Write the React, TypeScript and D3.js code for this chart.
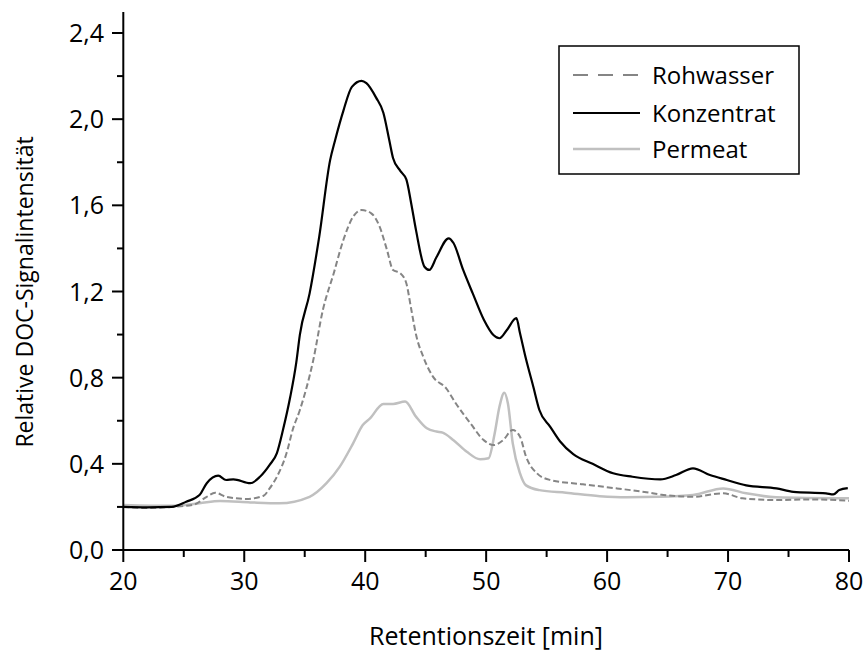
import React from "react";
import * as d3 from "d3";

const xTicks = [20, 30, 40, 50, 60, 70, 80];
const yTicks = [0, 0.4, 0.8, 1.2, 1.6, 2.0, 2.4];
const seriesNames = ["Rohwasser", "Konzentrat", "Permeat"];

const konzentrat: [number, number][] = [
  [20, 0.2], [22, 0.198], [24, 0.2], [25.2, 0.224], [26.3, 0.255], [26.9, 0.31], [27.85, 0.345],
  [28.5, 0.325], [29.1, 0.328], [30.5, 0.31], [31.3, 0.34], [32.1, 0.395], [32.7, 0.45],
  [33.2, 0.557], [33.8, 0.71], [34.3, 0.87], [34.6, 1.0], [35.4, 1.19], [36.2, 1.455],
  [37.1, 1.81], [37.5, 1.9], [38.2, 2.04], [38.9, 2.15], [39.7, 2.178], [40.1, 2.167],
  [40.9, 2.1], [41.5, 2.03], [42.0, 1.9], [42.3, 1.82], [42.9, 1.76], [43.4, 1.72],
  [43.8, 1.61], [44.2, 1.485], [44.9, 1.315], [45.3, 1.3], [45.9, 1.36], [46.9, 1.447],
  [47.3, 1.425], [48.1, 1.3], [48.9, 1.19], [49.8, 1.07], [50.6, 0.998], [51.1, 0.983],
  [51.7, 1.02], [52.5, 1.076], [52.8, 1.006], [53.3, 0.885], [53.9, 0.758], [54.4, 0.65],
  [55.3, 0.572], [56.1, 0.505], [57.2, 0.445], [58.8, 0.4], [60.5, 0.356], [62.1, 0.34],
  [64.4, 0.328], [65.7, 0.348], [67.1, 0.379], [68.5, 0.348], [69.9, 0.325], [71.5, 0.3],
  [74.0, 0.286], [75.4, 0.27], [78.1, 0.263], [78.7, 0.258], [79.2, 0.278], [79.9, 0.287],
];

const rohwasser: [number, number][] = [
  [20, 0.2], [22, 0.195], [24, 0.2], [25.8, 0.21], [26.9, 0.247], [27.6, 0.266], [28.5, 0.247],
  [30.2, 0.237], [31.6, 0.252], [32.1, 0.286], [32.7, 0.34], [33.5, 0.45], [34.0, 0.557],
  [34.6, 0.65], [35.7, 0.88], [36.5, 1.114], [37.4, 1.285], [38.2, 1.44], [39.0, 1.547],
  [39.7, 1.578], [40.5, 1.563], [41.2, 1.5], [41.8, 1.393], [42.3, 1.3], [42.9, 1.285],
  [43.4, 1.238], [43.8, 1.12], [44.2, 1.0], [44.8, 0.897], [45.6, 0.805], [46.7, 0.75],
  [47.5, 0.68], [48.7, 0.588], [49.8, 0.51], [50.6, 0.487], [51.4, 0.51], [52.2, 0.557],
  [52.8, 0.526], [53.3, 0.433], [54.2, 0.356], [55.3, 0.325], [58.0, 0.305], [60.8, 0.286],
  [63.5, 0.266], [64.4, 0.258], [67.1, 0.247], [69.6, 0.263], [71.2, 0.24], [74.0, 0.232],
  [76.7, 0.235], [80, 0.229],
];

const permeat: [number, number][] = [
  [20, 0.209], [24, 0.205], [26.3, 0.217], [28, 0.227], [30.5, 0.221], [32.9, 0.217],
  [35.4, 0.247], [36.8, 0.31], [37.9, 0.387], [39.0, 0.495], [39.8, 0.58], [40.4, 0.611],
  [41.5, 0.678], [42.3, 0.678], [43.3, 0.689], [44.2, 0.619], [45.1, 0.565], [45.9, 0.55],
  [46.4, 0.545], [47.3, 0.51], [48.4, 0.456], [49.5, 0.421], [50.2, 0.426], [50.7, 0.54],
  [51.1, 0.665], [51.5, 0.73], [51.8, 0.68], [52.2, 0.495], [52.8, 0.356], [53.3, 0.3],
  [54.4, 0.278], [56.6, 0.266], [59.4, 0.25], [61.6, 0.245], [64.4, 0.247], [67.1, 0.255],
  [69.6, 0.286], [71.5, 0.263], [74.0, 0.245], [80, 0.24],
];

const FONT = "'Open Sans', 'DejaVu Sans', sans-serif";

export default function App() {
  const W = 867, H = 655;
  const x = d3.scaleLinear().domain([20, 80]).range([123.3, 849]);
  const y = d3.scaleLinear().domain([0, 2.4]).range([550, 33]);
  const line = d3.line<[number, number]>().x(d => x(d[0])).y(d => y(d[1])).curve(d3.curveMonotoneX);

  const xMinor = d3.range(25, 80, 10);
  const yMinor = d3.range(0.2, 2.4, 0.4);

  const series = [
    { name: seriesNames[0], data: rohwasser, color: "#858585", width: 2, dash: "6,3", legDash: "15,10" },
    { name: seriesNames[1], data: konzentrat, color: "#000000", width: 2.2, dash: undefined, legDash: undefined },
    { name: seriesNames[2], data: permeat, color: "#c0c0c0", width: 2.5, dash: undefined, legDash: undefined },
  ];
  const legendRows = [75, 113, 149];

  return (
    <svg width={W} height={H} style={{ position: "absolute", left: 0, top: 0, background: "#fff" }}>
      {[series[2], series[0], series[1]].map(s => (
        <path key={s.name} d={line(s.data) || ""} fill="none" stroke={s.color} strokeWidth={s.width}
          strokeDasharray={s.dash} strokeLinejoin="round" />
      ))}
      <line x1={123.3} x2={123.3} y1={12} y2={550} stroke="#000" strokeWidth={2} />
      <line x1={123.3} x2={849} y1={550} y2={550} stroke="#000" strokeWidth={2} />
      {yTicks.map(t => (
        <g key={"yt" + t}>
          <line x1={112} x2={123.3} y1={y(t)} y2={y(t)} stroke="#000" strokeWidth={2} />
          <text x={104} y={y(t) + 9} textAnchor="end" fontFamily={FONT} fontSize={25} fill="#000">
            {d3.format(".1f")(t).replace(".", ",")}
          </text>
        </g>
      ))}
      {yMinor.map(t => (
        <line key={"ym" + t} x1={117} x2={123.3} y1={y(t)} y2={y(t)} stroke="#000" strokeWidth={2} />
      ))}
      {xTicks.map(t => (
        <g key={"xt" + t}>
          <line x1={x(t)} x2={x(t)} y1={550} y2={562} stroke="#000" strokeWidth={2} />
          <text x={x(t)} y={590} textAnchor="middle" fontFamily={FONT} fontSize={25} fill="#000">{t}</text>
        </g>
      ))}
      {xMinor.map(t => (
        <line key={"xm" + t} x1={x(t)} x2={x(t)} y1={550} y2={557} stroke="#000" strokeWidth={2} />
      ))}
      <text x={486} y={645} textAnchor="middle" fontFamily={FONT} fontSize={25} fill="#000">Retentionszeit [min]</text>
      <text transform="translate(33,292) rotate(-90)" textAnchor="middle" fontFamily={FONT} fontSize={23} fill="#000">
        Relative DOC-Signalintensität
      </text>
      <rect x={559} y={46} width={240} height={128} fill="#fff" stroke="#000" strokeWidth={1.5} />
      {series.map((s, i) => (
        <g key={"lg" + s.name}>
          <line x1={573} x2={640} y1={legendRows[i]} y2={legendRows[i]} stroke={s.color} strokeWidth={s.width}
            strokeDasharray={s.legDash} />
          <text x={652} y={legendRows[i] + 9} fontFamily={FONT} fontSize={24} fill="#000">{s.name}</text>
        </g>
      ))}
    </svg>
  );
}
